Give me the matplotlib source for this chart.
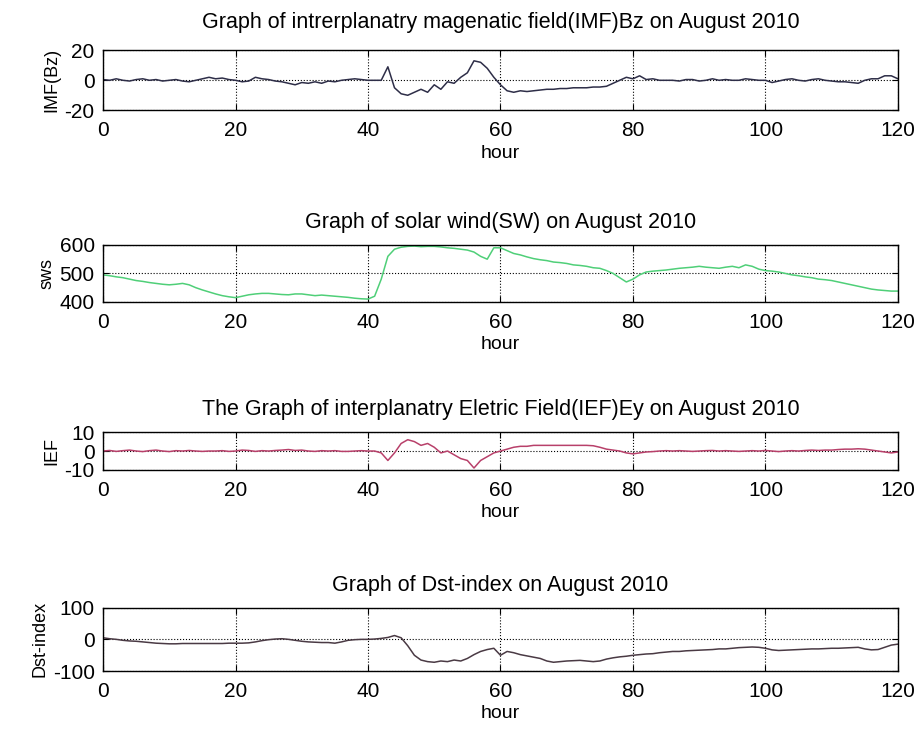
import matplotlib
matplotlib.use('Agg')
import matplotlib.pyplot as plt

hours = list(range(0, 121))

imf_bz = [0.5, 0, 1, 0, -0.5, 0.5, 1, 0, 0.5, -0.5,
          0, 0.5, -0.5, -1, 0, 1, 2, 1, 1.5, 0.5,
          0, -1, -0.5, 2, 1, 0.5, -0.5, -1, -2, -3,
          -1.5, -2, -1, -2, -0.5, -1, 0, 0.5, 1, 0.5,
          0, 0, 0, 9, -5, -9, -10, -8, -6, -8,
          -3, -6, -1, -2, 2, 5, 13, 12, 8, 2,
          -3, -7, -8, -7, -7.5, -7, -6.5, -6, -6, -5.5,
          -5.5, -5, -5, -5, -4.5, -4.5, -4, -2, 0, 2,
          1, 3, 0.5, 1, 0, 0, 0, -0.5, 0.5, 0.5,
          -0.5, 0, 1, 0, 0.5, 0, 0, 1, 0.5, 0,
          0, -1.5, -0.5, 0.5, 1, 0, -0.5, 0.5, 1, 0,
          -0.5, -1, -1, -1.5, -2, 0, 1, 1, 3, 3,
          1]

sws = [495, 492, 488, 485, 480, 475, 472, 468, 465, 462,
       460, 462, 465, 460, 450, 442, 435, 428, 422, 418,
       415, 420, 425, 428, 430, 430, 428, 426, 425, 428,
       428, 425, 422, 424, 422, 420, 418, 416, 413, 411,
       410, 420, 480, 560, 585, 592, 595, 596, 594, 595,
       595, 593, 590, 588, 585, 582, 575, 560, 550, 590,
       590, 580, 570, 565, 558, 552, 548, 545, 540, 538,
       535, 530, 528, 525, 520, 518, 510, 500, 485, 470,
       480, 495, 505, 508, 510, 512, 515, 518, 520, 522,
       525, 522, 520, 518, 522, 525, 520, 530, 525, 515,
       510, 508, 505, 500, 495, 492, 488, 485, 480, 478,
       475, 470, 465, 460, 455, 450, 445, 442, 440, 438,
       438]

ief = [0, 0.3, -0.2, 0.2, 0.5, 0, -0.3, 0.2, 0.5, 0,
       -0.3, 0.2, 0, 0.3, 0, -0.2, 0, 0, 0.2, -0.2,
       0, 0.5, 0.3, -0.2, 0.2, 0, 0.3, 0.5, 0.8, 0.3,
       0.5, 0, -0.2, 0.2, 0, 0.2, -0.2, -0.2, 0, 0.2,
       0, 0, -1, -5, -1, 4, 6, 5, 3, 4,
       2, -1, 0, -2, -4, -5, -9, -5, -3, -1,
       0, 1, 2, 2.5, 2.5, 3, 3, 3, 3, 3,
       3, 3, 3, 3, 2.8, 2, 1, 0.5, 0, -1,
       -1.5, -1, -0.5, -0.3, 0, 0.2, 0, 0.2, 0, -0.2,
       0, 0.2, 0.3, 0, 0.2, 0, -0.2, 0, 0.2, 0,
       0.3, 0, -0.3, 0, 0.2, 0, 0.3, 0.5, 0.3, 0.5,
       0.5, 0.8, 1, 1, 1.2, 1, 0.5, 0, -0.5, -1,
       -0.5]

dst = [5, 2, 0, -3, -5, -6, -8, -10, -12, -13,
       -14, -14, -13, -13, -13, -13, -13, -13, -13, -12,
       -12, -12, -11, -8, -4, -1, 1, 2, 0, -3,
       -6, -8, -9, -10, -10, -12, -8, -3, -1, 0,
       0, 1, 3, 6, 12, 5, -20, -50, -65, -70,
       -72, -68, -70, -65, -68, -60, -48, -38, -32, -28,
       -50, -38, -42, -48, -52, -56, -60, -68, -72, -70,
       -68, -67, -66, -68, -70, -68, -62, -58, -55, -53,
       -50, -48, -46, -45, -42, -40, -38, -38, -36, -35,
       -34, -33, -32, -30, -30, -28, -26, -25, -24, -25,
       -28, -33, -35, -34, -33, -32, -31, -30, -30, -29,
       -28, -28, -27, -26, -25, -30, -33, -32, -25, -18,
       -15]

titles = ['Graph of intrerplanatry magenatic field(IMF)Bz on August 2010',
          'Graph of solar wind(SW) on August 2010',
          'The Graph of interplanatry Eletric Field(IEF)Ey on August 2010',
          'Graph of Dst-index on August 2010']
ylabels = ['IMF(Bz)', 'sws', 'IEF', 'Dst-index']
ylims = [(-20, 20), (400, 600), (-10, 10), (-100, 100)]
yticks = [[-20, 0, 20], [400, 500, 600], [-10, 0, 10], [-100, 0, 100]]
series = [imf_bz, sws, ief, dst]
colors = ['#2e2e48', '#4fcf78', '#b8406a', '#4a3a44']

plt.rcParams['font.family'] = ['Liberation Sans', 'DejaVu Sans']
plt.rcParams['axes.unicode_minus'] = False

fig = plt.figure(figsize=(9.2, 7.4), dpi=100)
# axes boxes in figure fractions (left, bottom, width, height)
boxes = [[0.112, 0.851, 0.864, 0.081],
         [0.112, 0.592, 0.864, 0.077],
         [0.112, 0.365, 0.864, 0.051],
         [0.112, 0.093, 0.864, 0.086]]
title_pads = [16, 12, 12, 12]

for i in range(4):
    ax = fig.add_axes(boxes[i])
    ax.plot(hours, series[i], color=colors[i], linewidth=1.1)
    ax.set_xlim(0, 120)
    ax.set_ylim(*ylims[i])
    ax.set_xticks([0, 20, 40, 60, 80, 100, 120])
    ax.set_yticks(yticks[i])
    ax.grid(True, color='black', linestyle=':', linewidth=0.8)
    ax.tick_params(direction='in', top=True, right=True, length=4,
                   labelsize=15, pad=6)
    ax.tick_params(axis='x', pad=8)
    ax.set_title(titles[i], fontsize=15.5, pad=title_pads[i])
    ax.set_xlabel('hour', fontsize=14, labelpad=3)
    ax.set_ylabel(ylabels[i], fontsize=13, labelpad=3)
    for sp in ax.spines.values():
        sp.set_linewidth(1.0)

fig.savefig('out.png', dpi=100)
